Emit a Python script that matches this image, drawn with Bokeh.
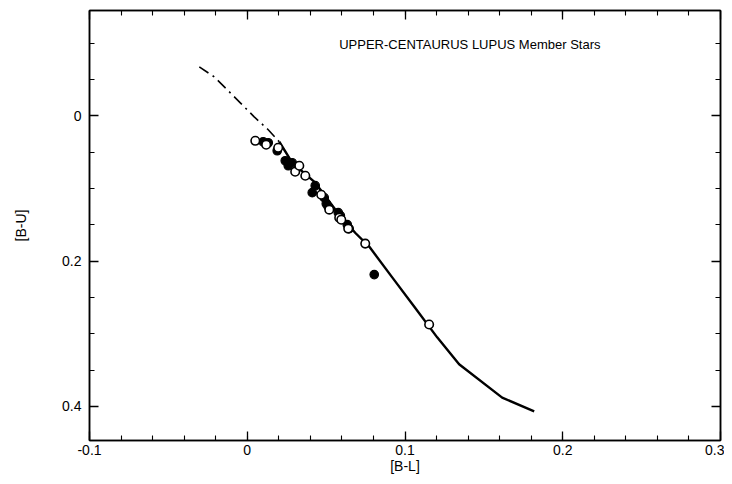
from bokeh.plotting import figure
from bokeh.models import Range1d, LinearAxis, FixedTicker, Label, CustomJSTickFormatter
from bokeh.embed import file_html
from bokeh.resources import INLINE

# Model curve: dash-dot (extrapolated) part and solid part
curve_dashdot_x = [-0.0304, -0.0209, -0.0139, -0.0044, 0.0044, 0.0133, 0.0203]
curve_dashdot_y = [-0.0674, -0.0536, -0.0385, -0.0179, 0.0014, 0.0192, 0.0357]
curve_solid_x = [0.0203, 0.0285, 0.0431, 0.0558, 0.0684, 0.0773, 0.0919, 0.1065, 0.1204, 0.1343, 0.1616, 0.1819]
curve_solid_y = [0.0357, 0.0646, 0.0921, 0.1290, 0.1610, 0.1800, 0.2224, 0.2647, 0.3050, 0.3420, 0.3880, 0.4070]

# Member stars: open circles
open_x = [0.0051, 0.0120, 0.0196, 0.0304, 0.0330, 0.0368, 0.0469, 0.0520, 0.0583, 0.0596, 0.0640, 0.0748, 0.1153]
open_y = [0.0344, 0.0399, 0.0440, 0.0770, 0.0687, 0.0825, 0.1086, 0.1292, 0.1402, 0.1430, 0.1553, 0.1759, 0.2873]

# Member stars: filled circles
filled_x = [0.0101, 0.0133, 0.0190, 0.0241, 0.0260, 0.0285, 0.0412, 0.0431, 0.0488, 0.0501, 0.0513, 0.0577, 0.0590, 0.0634, 0.0646, 0.0805]
filled_y = [0.0357, 0.0371, 0.0481, 0.0619, 0.0687, 0.0646, 0.1058, 0.0962, 0.1127, 0.1210, 0.1251, 0.1333, 0.1375, 0.1498, 0.1553, 0.2186]

x_ticks = [-0.1, 0.0, 0.1, 0.2, 0.3]
x_tick_labels = ["-0.1", "0", "0.1", "0.2", "0.3"]
x_minor = [-0.1 + 0.02 * i for i in range(21)]
y_ticks = [0.0, 0.2, 0.4]
y_tick_labels = ["0", "0.2", "0.4"]
y_minor = [-0.1, -0.05, 0.0, 0.05, 0.1, 0.15, 0.2, 0.25, 0.3, 0.35, 0.4]

title_text = "UPPER-CENTAURUS LUPUS Member Stars"
x_label = "[B-L]"
y_label = "[B-U]"

FONT = "Liberation Sans"

p = figure(width=724, height=476, output_backend="svg", toolbar_location=None,
           x_range=Range1d(-0.1, 0.3), y_range=Range1d(0.447, -0.145),
           x_axis_location=None, y_axis_location=None,
           min_border_left=89, min_border_right=4, min_border_top=10, min_border_bottom=35)
p.grid.visible = False
p.outline_line_color = "black"
p.outline_line_width = 1.5
p.background_fill_color = "white"
p.border_fill_color = "white"

blank = CustomJSTickFormatter(code="return ''")


def style_axis(ax, show_labels):
    ax.axis_line_color = "black"
    ax.axis_line_width = 1.5
    ax.major_tick_in = 9
    ax.major_tick_out = 0
    ax.minor_tick_in = 5
    ax.minor_tick_out = 0
    ax.major_tick_line_width = 1.3
    ax.minor_tick_line_width = 1.1
    ax.major_tick_line_color = "black"
    ax.minor_tick_line_color = "black"
    if show_labels:
        ax.major_label_text_font = FONT
        ax.major_label_text_font_size = "14px"
        ax.major_label_text_color = "black"
        ax.axis_label_text_font = FONT
        ax.axis_label_text_font_size = "14px"
        ax.axis_label_text_font_style = "normal"
        ax.axis_label_text_color = "black"
    else:
        ax.formatter = blank
        ax.major_label_standoff = 0


xt = FixedTicker(ticks=x_ticks, minor_ticks=x_minor)
yt = FixedTicker(ticks=y_ticks, minor_ticks=y_minor)

bottom = LinearAxis(ticker=xt, axis_label=x_label)
bottom.major_label_overrides = {t: l for t, l in zip(x_ticks, x_tick_labels)}
style_axis(bottom, True)
bottom.major_label_standoff = 4
bottom.axis_label_standoff = 0
p.add_layout(bottom, "below")

top = LinearAxis(ticker=xt)
style_axis(top, False)
p.add_layout(top, "above")

left = LinearAxis(ticker=yt, axis_label=y_label)
left.major_label_overrides = {t: l for t, l in zip(y_ticks, y_tick_labels)}
style_axis(left, True)
left.major_label_standoff = 8
left.axis_label_standoff = 30
p.add_layout(left, "left")

right = LinearAxis(ticker=yt)
style_axis(right, False)
p.add_layout(right, "right")

p.line(curve_dashdot_x, curve_dashdot_y, line_color="black", line_width=1.6, line_dash="11 5 2 5")
p.line(curve_solid_x, curve_solid_y, line_color="black", line_width=2.4)

p.scatter(filled_x, filled_y, size=8.5, fill_color="black", line_color="black", line_width=1.2)
p.scatter(open_x, open_y, size=8.5, fill_color="white", line_color="black", line_width=1.6)

p.add_layout(Label(x=0.0583, y=-0.0976, text=title_text, text_font=FONT, text_font_size="13px",
                   text_color="black", text_baseline="middle", text_align="left"))

open("out.html", "w").write(file_html(p, INLINE))
